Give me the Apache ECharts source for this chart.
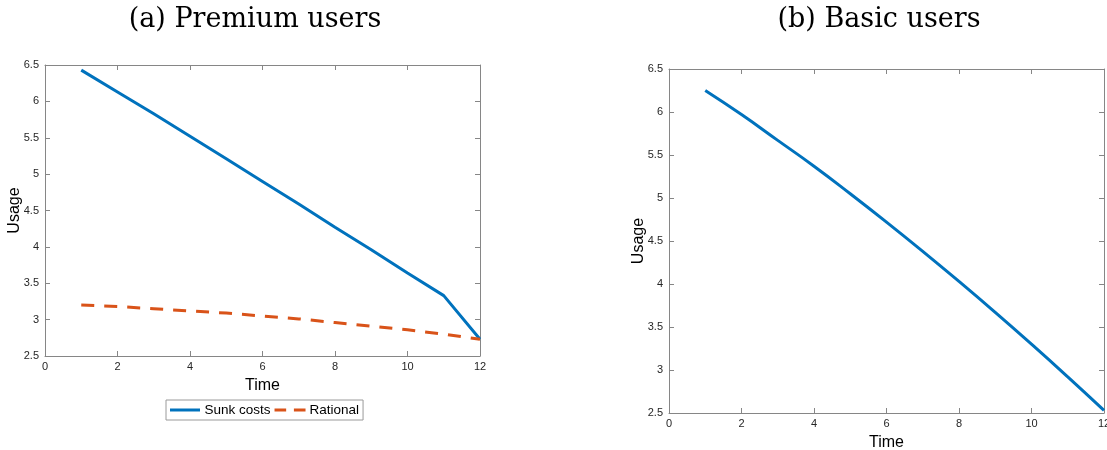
<!DOCTYPE html>
<html>
<head>
<meta charset="utf-8">
<script src="https://cdn.jsdelivr.net/npm/echarts@6/dist/echarts.min.js"></script>
<style>
  html, body { margin: 0; padding: 0; background: #fff; }
  #chart { width: 1107px; height: 450px; }
</style>
</head>
<body>
<div id="chart"></div>
<script>
// Time periods
const time = [1, 2, 3, 4, 5, 6, 7, 8, 9, 10, 11, 12];
// (a) Premium users
const premiumSunk = [6.43, 6.13, 5.83, 5.52, 5.21, 4.90, 4.59, 4.27, 3.96, 3.64, 3.33, 2.73];
const premiumRational = [3.20, 3.18, 3.15, 3.12, 3.09, 3.05, 3.01, 2.96, 2.91, 2.86, 2.80, 2.73];
// (b) Basic users
const basicSunk = [6.25, 5.97, 5.67, 5.37, 5.05, 4.72, 4.38, 4.03, 3.67, 3.30, 2.92, 2.53];

const panelTitles = ['(a) Premium users', '(b) Basic users'];
const seriesNames = ['Sunk costs', 'Rational'];

const BLUE = '#0072BD';
const ORANGE = '#D95319';
const AXIS = '#868686';
const LABEL = '#262626';

const pairs = (xs, ys) => xs.map((x, i) => [x, ys[i]]);

function xAxes(gridIndex) {
  const base = {
    gridIndex, type: 'value', min: 0, max: 12, interval: 2,
    axisLine: { show: true, onZero: false, lineStyle: { color: AXIS, width: 1 } },
    axisTick: { show: true, inside: true, length: 5, lineStyle: { color: AXIS } },
    splitLine: { show: false }
  };
  return [
    Object.assign({}, base, {
      position: 'bottom',
      name: 'Time', nameLocation: 'middle', nameGap: 22,
      nameTextStyle: { fontFamily: 'Liberation Sans', fontSize: 16, color: '#000' },
      axisLabel: { fontFamily: 'Liberation Sans', fontSize: 11, color: LABEL, margin: 5 }
    }),
    Object.assign({}, base, { position: 'top', axisLabel: { show: false } })
  ];
}

function yAxes(gridIndex) {
  const base = {
    gridIndex, type: 'value', min: 2.5, max: 6.5, interval: 0.5,
    axisLine: { show: true, onZero: false, lineStyle: { color: AXIS, width: 1 } },
    axisTick: { show: true, inside: true, length: 5, lineStyle: { color: AXIS } },
    splitLine: { show: false }
  };
  return [
    Object.assign({}, base, {
      position: 'left',
      name: 'Usage', nameLocation: 'middle', nameGap: 22, nameMoveOverlap: false,
      nameTextStyle: { fontFamily: 'Liberation Sans', fontSize: 16, color: '#000' },
      axisLabel: { fontFamily: 'Liberation Sans', fontSize: 11, color: LABEL, margin: 6 }
    }),
    Object.assign({}, base, { position: 'right', axisLabel: { show: false } })
  ];
}

// Legend swatches: solid and dashed strokes
const solidIcon = 'path://M0,0H30V3H0Z';
const dashedIcon = 'path://M0,0H12V3H0Z M20,0H32V3H20Z';

const chart = echarts.init(document.getElementById('chart'), null, { renderer: 'canvas' });

chart.setOption({
  backgroundColor: '#ffffff',
  animation: false,
  title: [
    { text: panelTitles[0], left: 250, top: 1, textAlign: 'center',
      textStyle: { fontFamily: 'DejaVu Serif', fontWeight: 'normal', fontSize: 27, color: '#000' } },
    { text: panelTitles[1], left: 874, top: 1, textAlign: 'center',
      textStyle: { fontFamily: 'DejaVu Serif', fontWeight: 'normal', fontSize: 27, color: '#000' } }
  ],
  legend: {
    data: [
      { name: seriesNames[0], icon: solidIcon, itemStyle: { color: BLUE } },
      { name: seriesNames[1], icon: dashedIcon, itemStyle: { color: ORANGE } }
    ],
    left: 166, top: 400,
    orient: 'horizontal',
    itemWidth: 31, itemHeight: 3, itemGap: 4,
    padding: [3, 4, 3, 4],
    borderColor: '#9a9a9a', borderWidth: 1,
    textStyle: { fontFamily: 'Liberation Sans', fontSize: 13.5, color: '#000', padding: [0, 0, 0, -1] }
  },
  grid: [
    { left: 45, right: 627, top: 65, bottom: 94, outerBoundsMode: 'none' },
    { left: 669, right: 3, top: 69, bottom: 37, outerBoundsMode: 'none' }
  ],
  xAxis: [...xAxes(0), ...xAxes(1)],
  yAxis: [...yAxes(0), ...yAxes(1)],
  series: [
    {
      name: seriesNames[0], type: 'line', xAxisIndex: 0, yAxisIndex: 0,
      data: pairs(time, premiumSunk), symbol: 'none', smooth: false,
      lineStyle: { color: BLUE, width: 3 }, itemStyle: { color: BLUE }
    },
    {
      name: seriesNames[1], type: 'line', xAxisIndex: 0, yAxisIndex: 0,
      data: pairs(time, premiumRational), symbol: 'none', smooth: false,
      lineStyle: { color: ORANGE, width: 3, type: [13, 10] }, itemStyle: { color: ORANGE }
    },
    {
      name: 'basic', type: 'line', xAxisIndex: 2, yAxisIndex: 2,
      data: pairs(time, basicSunk), symbol: 'none', smooth: true,
      lineStyle: { color: BLUE, width: 3 }, itemStyle: { color: BLUE }
    }
  ]
});
</script>
</body>
</html>
